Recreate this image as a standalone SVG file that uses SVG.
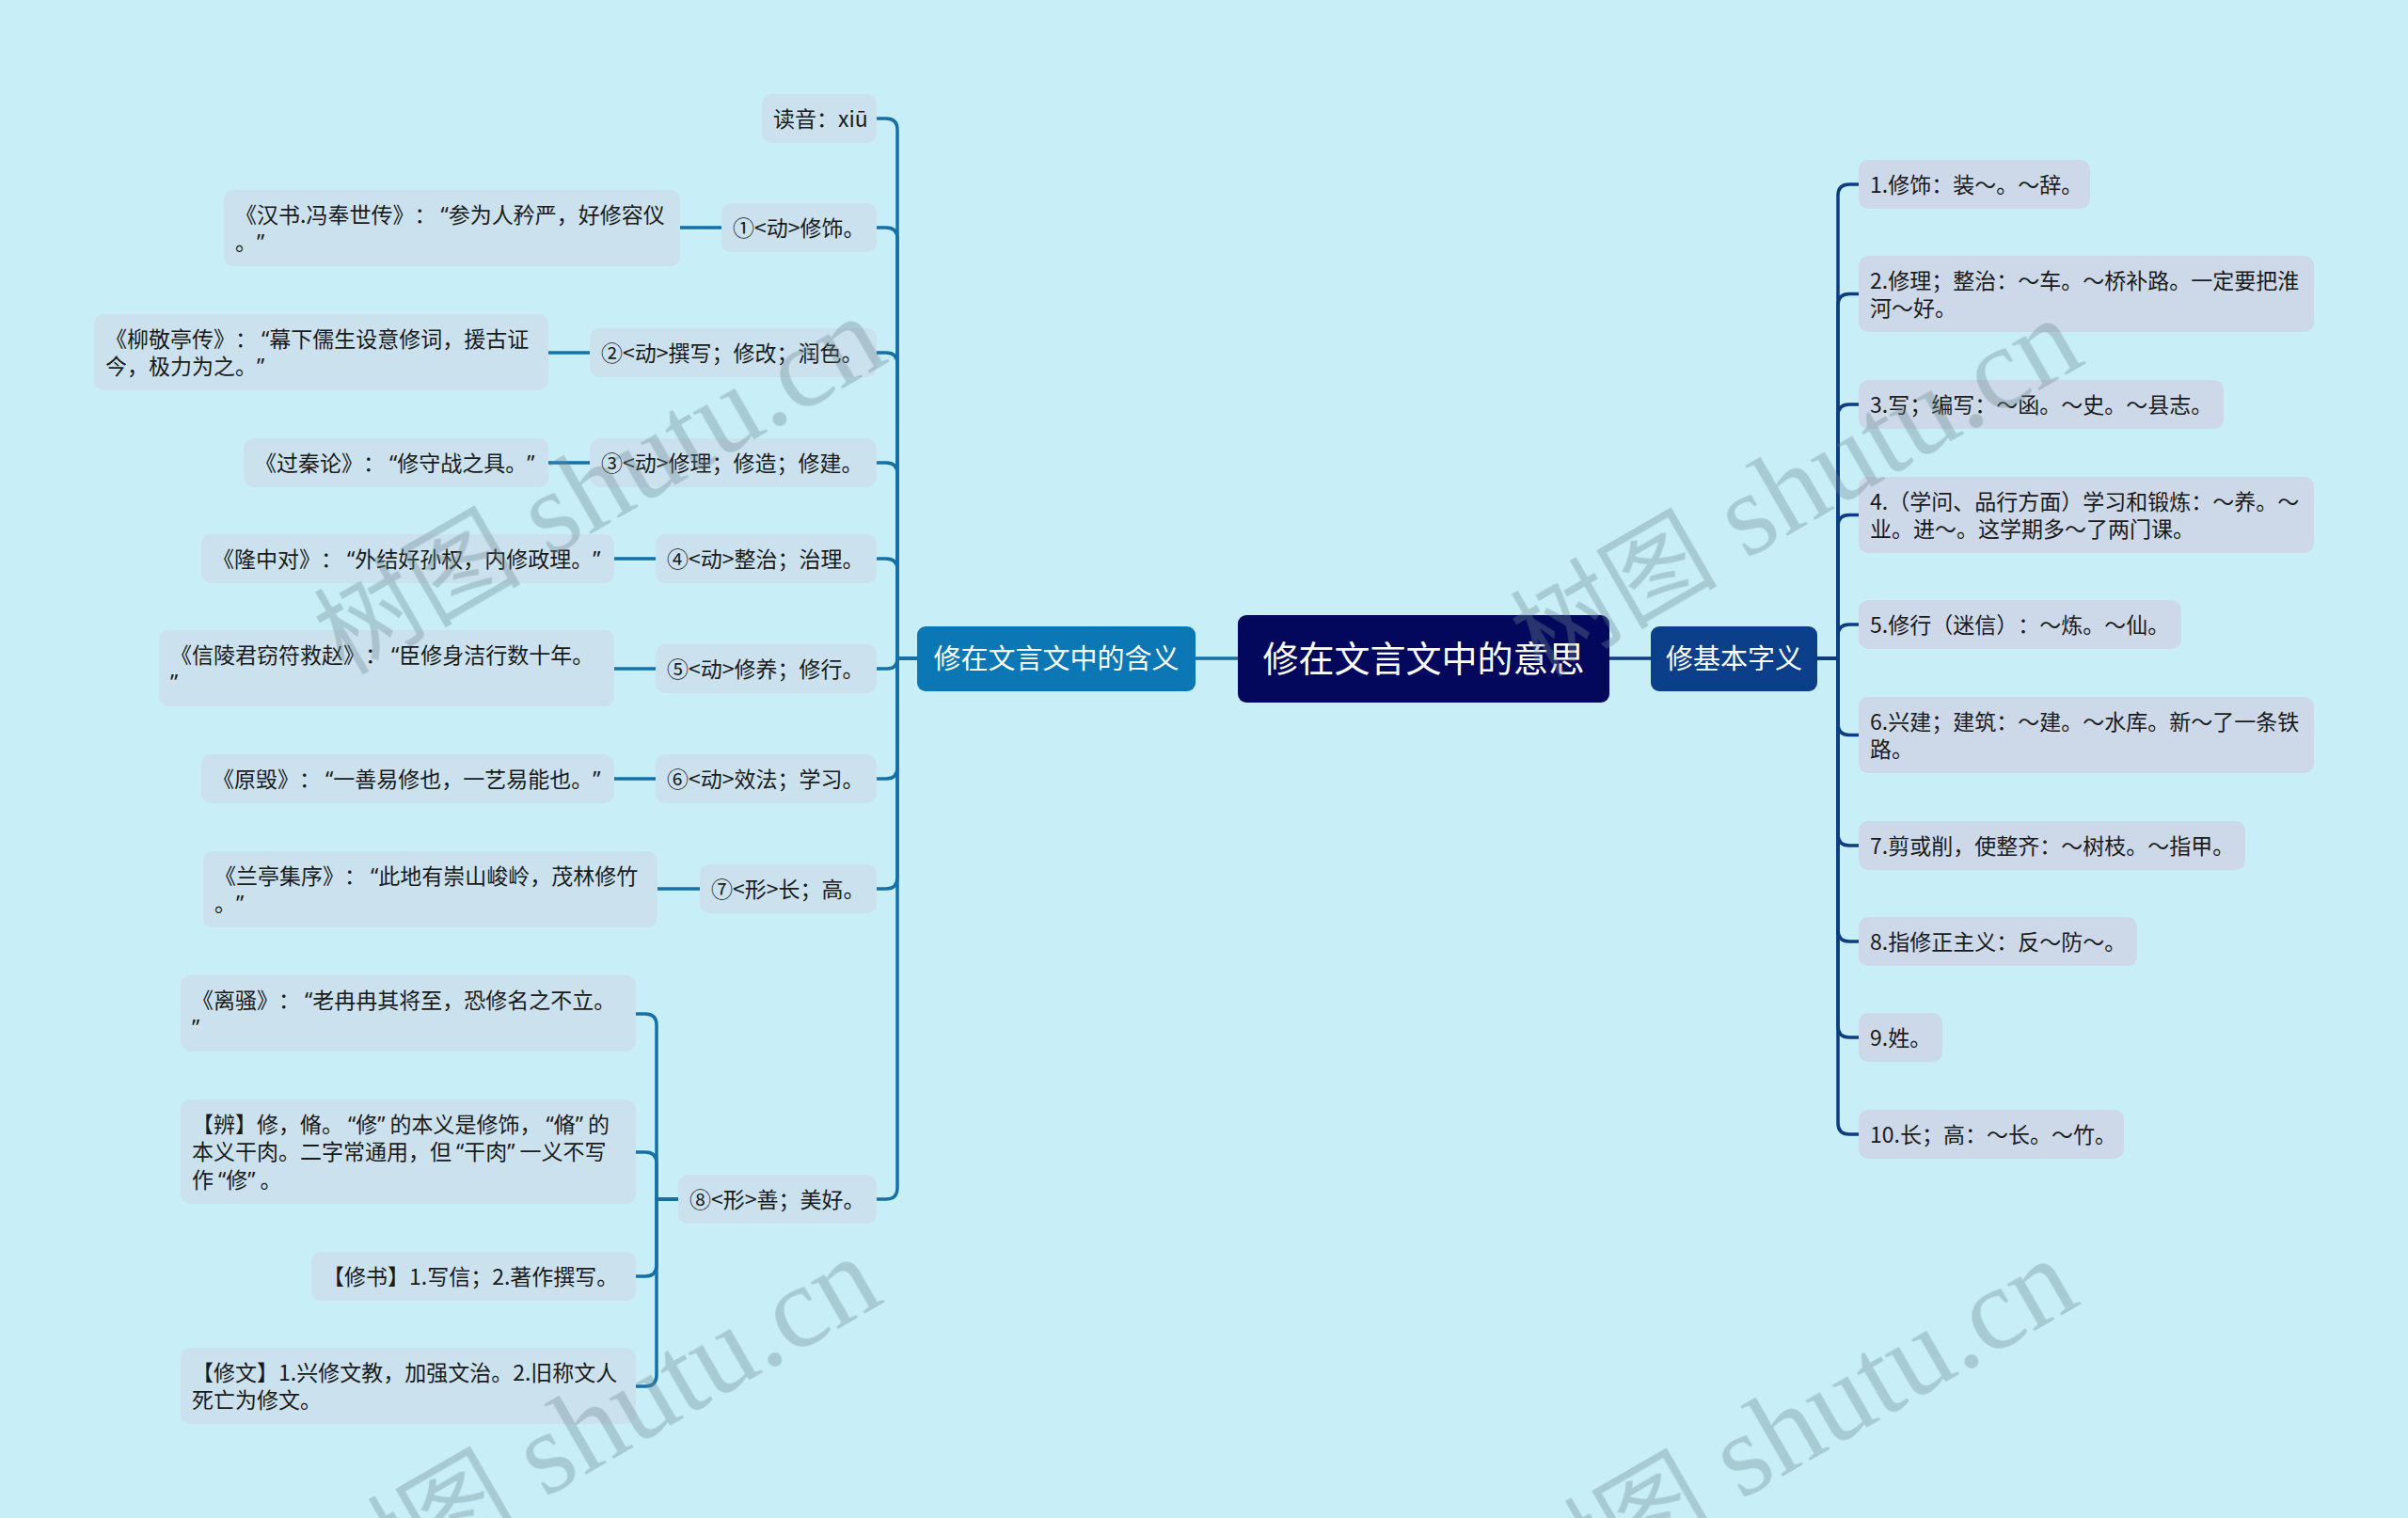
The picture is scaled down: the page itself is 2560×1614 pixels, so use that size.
<svg xmlns="http://www.w3.org/2000/svg" width="2560" height="1614" viewBox="0 0 2560 1614">
<style>
.t{font-family:"Noto Sans CJK SC","Noto Sans",sans-serif;font-size:23px;fill:#1a1a1a;text-spacing-trim:space-all}
.q{font-family:"Noto Sans","Liberation Sans",sans-serif}
.qc{font-family:"Noto Sans","Liberation Sans",sans-serif;letter-spacing:5px}
.lf{fill:#CBE2EE}
.rf{fill:#CDD9E9}
.cl{fill:none;stroke:#1570A8;stroke-width:3.5;stroke-linecap:round}
.cr{fill:none;stroke:#0C3C82;stroke-width:3.5;stroke-linecap:round}
.wm{fill:#6D8890;opacity:0.35}
.wc{font-family:"Noto Sans CJK SC",sans-serif;font-size:110px}
.wl{font-family:"Liberation Serif",serif;font-size:125px}
.m{font-family:"Noto Sans CJK SC","Noto Sans",sans-serif;fill:#ffffff;text-anchor:middle}
</style>
<rect x="0" y="0" width="2560" height="1614" fill="#C8EFF7"/>

<g id="connectors">
<path class="cl" d="M1271,700 H1316"/>
<path class="cr" d="M1711,700 H1755"/>
<path class="cl" d="M975,700 H954 V138 Q954,126 942,126 H932"/>
<path class="cl" d="M975,700 H954 V254 Q954,242 942,242 H932"/>
<path class="cl" d="M975,700 H954 V387 Q954,375 942,375 H932"/>
<path class="cl" d="M975,700 H954 V504 Q954,492 942,492 H932"/>
<path class="cl" d="M975,700 H954 V606 Q954,594 942,594 H932"/>
<path class="cl" d="M975,700 H954 Q954,711 943,711 H932"/>
<path class="cl" d="M975,700 H954 V816 Q954,828 942,828 H932"/>
<path class="cl" d="M975,700 H954 V933 Q954,945 942,945 H932"/>
<path class="cl" d="M975,700 H954 V1263 Q954,1275 942,1275 H932"/>
<path class="cl" d="M767,242 H723"/>
<path class="cl" d="M627,375 H583"/>
<path class="cl" d="M627,492 H583"/>
<path class="cl" d="M697,594 H653"/>
<path class="cl" d="M697,711 H653"/>
<path class="cl" d="M697,828 H653"/>
<path class="cl" d="M744,945 H699"/>
<path class="cl" d="M721,1275 H698 V1090 Q698,1078 686,1078 H676"/>
<path class="cl" d="M721,1275 H698 V1237 Q698,1225 686,1225 H676"/>
<path class="cl" d="M721,1275 H698 V1345 Q698,1357 686,1357 H676"/>
<path class="cl" d="M721,1275 H698 V1462 Q698,1474 686,1474 H676"/>
<path class="cr" d="M1932,700 H1954 V208 Q1954,196 1966,196 H1976"/>
<path class="cr" d="M1932,700 H1954 V324.5 Q1954,312.5 1966,312.5 H1976"/>
<path class="cr" d="M1932,700 H1954 V442 Q1954,430 1966,430 H1976"/>
<path class="cr" d="M1932,700 H1954 V559.5 Q1954,547.5 1966,547.5 H1976"/>
<path class="cr" d="M1932,700 H1954 V676 Q1954,664 1966,664 H1976"/>
<path class="cr" d="M1932,700 H1954 V769.5 Q1954,781.5 1966,781.5 H1976"/>
<path class="cr" d="M1932,700 H1954 V887 Q1954,899 1966,899 H1976"/>
<path class="cr" d="M1932,700 H1954 V989 Q1954,1001 1966,1001 H1976"/>
<path class="cr" d="M1932,700 H1954 V1091 Q1954,1103 1966,1103 H1976"/>
<path class="cr" d="M1932,700 H1954 V1194 Q1954,1206 1966,1206 H1976"/>
</g>

<g id="root">
<rect x="1316" y="654" width="395" height="93" rx="9" fill="#04085C"/>
<text class="m" x="1513.5" y="714" font-size="38">修在文言文中的意思</text>
</g>
<g id="b-left">
<rect x="975" y="666" width="296" height="69" rx="9" fill="#0C77B5"/>
<text class="m" x="1123" y="711" font-size="29">修在文言文中的含义</text>
</g>
<g id="b-right">
<rect x="1755" y="666" width="177" height="69" rx="9" fill="#0B3F8A"/>
<text class="m" x="1843.5" y="711" font-size="29">修基本字义</text>
</g>

<g id="l0"><rect class="lf" x="810" y="100" width="122" height="52" rx="10"/><text class="t" x="822" y="134.5">读音：xiū</text></g>
<g id="l1"><rect class="lf" x="767" y="216" width="165" height="52" rx="10"/><text class="t" x="779" y="250.5">①&lt;动&gt;修饰。</text></g>
<g id="l1a"><rect class="lf" x="238" y="202" width="485" height="81" rx="10"/><text class="t" x="250" y="236.5">《汉书.冯奉世传》：<tspan class="q" dx="5">“</tspan>参为人矜严，好修容仪</text><text class="t" x="250" y="266">。<tspan class="qc">”</tspan></text></g>
<g id="l2"><rect class="lf" x="627" y="349" width="305" height="52" rx="10"/><text class="t" x="639" y="383.5">②&lt;动&gt;撰写；修改；润色。</text></g>
<g id="l2a"><rect class="lf" x="100" y="334" width="483" height="81" rx="10"/><text class="t" x="112" y="368.5">《柳敬亭传》：<tspan class="q" dx="5">“</tspan>幕下儒生设意修词，援古证</text><text class="t" x="112" y="398">今，极力为之。<tspan class="qc">”</tspan></text></g>
<g id="l3"><rect class="lf" x="627" y="466" width="305" height="52" rx="10"/><text class="t" x="639" y="500.5">③&lt;动&gt;修理；修造；修建。</text></g>
<g id="l3a"><rect class="lf" x="259" y="466" width="324" height="52" rx="10"/><text class="t" x="271" y="500.5">《过秦论》：<tspan class="q" dx="5">“</tspan>修守战之具。<tspan class="qc">”</tspan></text></g>
<g id="l4"><rect class="lf" x="697" y="568" width="235" height="52" rx="10"/><text class="t" x="709" y="602.5">④&lt;动&gt;整治；治理。</text></g>
<g id="l4a"><rect class="lf" x="214" y="568" width="439" height="52" rx="10"/><text class="t" x="226" y="602.5">《隆中对》：<tspan class="q" dx="5">“</tspan>外结好孙权，内修政理。<tspan class="qc">”</tspan></text></g>
<g id="l5"><rect class="lf" x="697" y="685" width="235" height="52" rx="10"/><text class="t" x="709" y="719.5">⑤&lt;动&gt;修养；修行。</text></g>
<g id="l5a"><rect class="lf" x="169" y="670" width="484" height="81" rx="10"/><text class="t" x="181" y="704.5">《信陵君窃符救赵》：<tspan class="q" dx="5">“</tspan>臣修身洁行数十年。</text><text class="t" x="181" y="734"><tspan class="qc">”</tspan></text></g>
<g id="l6"><rect class="lf" x="697" y="802" width="235" height="52" rx="10"/><text class="t" x="709" y="836.5">⑥&lt;动&gt;效法；学习。</text></g>
<g id="l6a"><rect class="lf" x="214" y="802" width="439" height="52" rx="10"/><text class="t" x="226" y="836.5">《原毁》：<tspan class="q" dx="5">“</tspan>一善易修也，一艺易能也。<tspan class="qc">”</tspan></text></g>
<g id="l7"><rect class="lf" x="744" y="919" width="188" height="52" rx="10"/><text class="t" x="756" y="953.5">⑦&lt;形&gt;长；高。</text></g>
<g id="l7a"><rect class="lf" x="216" y="905" width="483" height="81" rx="10"/><text class="t" x="228" y="939.5">《兰亭集序》：<tspan class="q" dx="5">“</tspan>此地有崇山峻岭，茂林修竹</text><text class="t" x="228" y="969">。<tspan class="qc">”</tspan></text></g>
<g id="l8"><rect class="lf" x="721" y="1249" width="211" height="52" rx="10"/><text class="t" x="733" y="1283.5">⑧&lt;形&gt;善；美好。</text></g>
<g id="l8a"><rect class="lf" x="192" y="1037" width="484" height="81" rx="10"/><text class="t" x="204" y="1071.5">《离骚》：<tspan class="q" dx="5">“</tspan>老冉冉其将至，恐修名之不立。</text><text class="t" x="204" y="1101"><tspan class="qc">”</tspan></text></g>
<g id="l8b"><rect class="lf" x="192" y="1169" width="484" height="111" rx="10"/><text class="t" x="204" y="1203.5">【辨】修，脩。<tspan class="q" dx="5">“</tspan>修<tspan class="qc">”</tspan>的本义是修饰，<tspan class="q" dx="5">“</tspan>脩<tspan class="qc">”</tspan>的</text><text class="t" x="204" y="1233">本义干肉。二字常通用，但<tspan class="q" dx="5">“</tspan>干肉<tspan class="qc">”</tspan>一义不写</text><text class="t" x="204" y="1262.5">作<tspan class="q" dx="5">“</tspan>修<tspan class="qc">”</tspan>。</text></g>
<g id="l8c"><rect class="lf" x="331" y="1331" width="345" height="52" rx="10"/><text class="t" x="343" y="1365.5">【修书】1.写信；2.著作撰写。</text></g>
<g id="l8d"><rect class="lf" x="192" y="1433" width="484" height="81" rx="10"/><text class="t" x="204" y="1467.5">【修文】1.兴修文教，加强文治。2.旧称文人</text><text class="t" x="204" y="1497">死亡为修文。</text></g>

<g id="r1"><rect class="rf" x="1976" y="170" width="246" height="52" rx="10"/><text class="t" x="1988" y="204.5">1.修饰：装～。～辞。</text></g>
<g id="r2"><rect class="rf" x="1976" y="272" width="484" height="81" rx="10"/><text class="t" x="1988" y="306.5">2.修理；整治：～车。～桥补路。一定要把淮</text><text class="t" x="1988" y="336">河～好。</text></g>
<g id="r3"><rect class="rf" x="1976" y="404" width="388" height="52" rx="10"/><text class="t" x="1988" y="438.5">3.写；编写：～函。～史。～县志。</text></g>
<g id="r4"><rect class="rf" x="1976" y="507" width="484" height="81" rx="10"/><text class="t" x="1988" y="541.5">4.（学问、品行方面）学习和锻炼：～养。～</text><text class="t" x="1988" y="571">业。进～。这学期多～了两门课。</text></g>
<g id="r5"><rect class="rf" x="1976" y="638" width="343" height="52" rx="10"/><text class="t" x="1988" y="672.5">5.修行（迷信）：～炼。～仙。</text></g>
<g id="r6"><rect class="rf" x="1976" y="741" width="484" height="81" rx="10"/><text class="t" x="1988" y="775.5">6.兴建；建筑：～建。～水库。新～了一条铁</text><text class="t" x="1988" y="805">路。</text></g>
<g id="r7"><rect class="rf" x="1976" y="873" width="411" height="52" rx="10"/><text class="t" x="1988" y="907.5">7.剪或削，使整齐：～树枝。～指甲。</text></g>
<g id="r8"><rect class="rf" x="1976" y="975" width="296" height="52" rx="10"/><text class="t" x="1988" y="1009.5">8.指修正主义：反～防～。</text></g>
<g id="r9"><rect class="rf" x="1976" y="1077" width="89" height="52" rx="10"/><text class="t" x="1988" y="1111.5">9.姓。</text></g>
<g id="r10"><rect class="rf" x="1976" y="1180" width="282" height="52" rx="10"/><text class="t" x="1988" y="1214.5">10.长；高：～长。～竹。</text></g>

<g id="watermarks" class="wm">
<text transform="translate(366,719) rotate(-30)"><tspan class="wc">树图</tspan><tspan class="wl"> shutu.cn</tspan></text>
<text transform="translate(1638,721) rotate(-30)"><tspan class="wc">树图</tspan><tspan class="wl"> shutu.cn</tspan></text>
<text transform="translate(361,1719) rotate(-30)"><tspan class="wc">树图</tspan><tspan class="wl"> shutu.cn</tspan></text>
<text transform="translate(1633,1721) rotate(-30)"><tspan class="wc">树图</tspan><tspan class="wl"> shutu.cn</tspan></text>
</g>
</svg>
